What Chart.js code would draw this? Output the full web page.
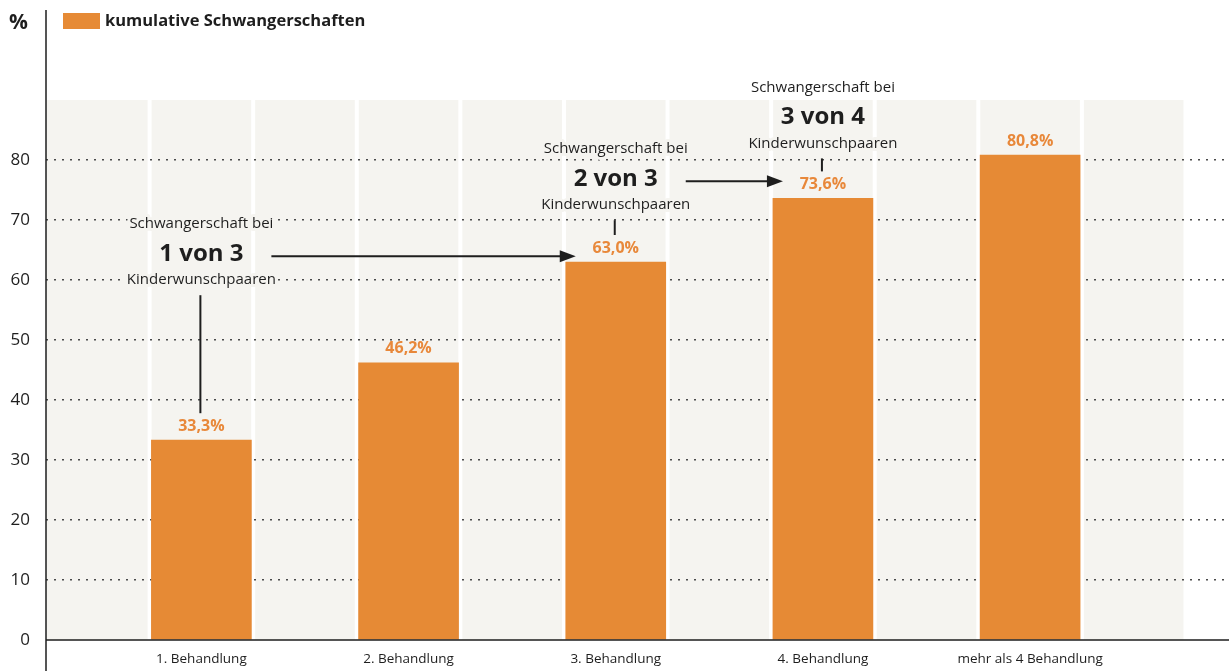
<!DOCTYPE html>
<html lang="de">
<head>
    <meta charset="UTF-8">
    <title>Kumulative Schwangerschaften</title>
    <script src="https://cdn.jsdelivr.net/npm/chart.js"></script>
    <style>
        body { margin: 0; background: #fff; }
    </style>
</head>
<body>
    <canvas id="chart" width="1229" height="671"></canvas>

    <script>
        // data
        const xLabels = ['1. Behandlung', '2. Behandlung', '3. Behandlung', '4. Behandlung', 'mehr als 4 Behandlung'];
        const values = [33.3, 46.2, 63.0, 73.6, 80.8];
        const valueLabels = ['33,3%', '46,2%', '63,0%', '73,6%', '80,8%'];
        const yTicks = [0, 10, 20, 30, 40, 50, 60, 70, 80];
        const seriesName = 'kumulative Schwangerschaften';

        // callouts: bar index, value where the first text line sits, big text
        const noteBars = [0, 2, 3];
        const noteValues = [69.3, 81.8, 92.1];
        const noteBig = ['1 von 3', '2 von 3', '3 von 4'];
        const noteTop = 'Schwangerschaft bei';
        const noteBottom = 'Kinderwunschpaaren';
        const arrowFrom = [0, 1];   // arrow from note i to note i+1

        const orange = '#e68a35';
        const panel = '#f5f4f0';
        const ink = '#1e1e1e';
        const font = "'Open Sans', sans-serif";

        Chart.defaults.font.family = font;
        Chart.defaults.color = ink;

        const backdrop = {
            id: 'backdrop',
            beforeDraw(chart) {
                const ctx = chart.ctx;
                const x = chart.scales.x, y = chart.scales.y;
                const top = y.getPixelForValue(90), bottom = y.getPixelForValue(0);
                ctx.save();
                ctx.fillStyle = panel;
                for (let k = 0; k < 11; k++) {
                    const l = x.getPixelForValue(-0.75 + k * 0.5) + (k === 0 ? 0 : 2);
                    const r = x.getPixelForValue(-0.25 + k * 0.5) - 2;
                    ctx.fillRect(l, top, r - l, bottom - top);
                }
                ctx.restore();
            },
            afterDraw(chart) {
                const ctx = chart.ctx;
                const y = chart.scales.y;
                const area = chart.chartArea;
                const bars = chart.getDatasetMeta(0).data;
                const panelTop = y.getPixelForValue(90);
                ctx.save();

                // axis lines
                ctx.strokeStyle = ink;
                ctx.lineWidth = 1.5;
                ctx.beginPath();
                ctx.moveTo(area.left, area.top);
                ctx.lineTo(area.left, chart.height);
                ctx.moveTo(area.left, area.bottom);
                ctx.lineTo(area.right, area.bottom);
                ctx.stroke();

                // % sign and legend
                ctx.fillStyle = ink;
                ctx.textBaseline = 'middle';
                ctx.textAlign = 'left';
                ctx.font = 'bold 21px ' + font;
                ctx.fillText('%', 9, 23);
                ctx.fillStyle = orange;
                ctx.fillRect(63, 13, 37, 16);
                ctx.fillStyle = ink;
                ctx.font = 'bold 16.5px ' + font;
                ctx.fillText(seriesName, 105, 21);

                // value labels
                ctx.textAlign = 'center';
                ctx.fillStyle = '#e8883a';
                ctx.font = 'bold 16px ' + font;
                bars.forEach((b, i) => ctx.fillText(valueLabels[i], b.x, b.y - 14));

                // callouts
                const lines = [];
                noteBars.forEach((bi, n) => {
                    const b = bars[bi];
                    const y1 = y.getPixelForValue(noteValues[n]);
                    const y2 = y1 + 30, y3 = y1 + 56;
                    lines.push({ bx: b.x, y2 });
                    const txt = [[noteTop, '15px ', y1], [noteBig[n], 'bold 24px ', y2], [noteBottom, '15px ', y3]];
                    txt.forEach(([t, f, ty]) => {
                        ctx.font = f + font;
                        if (ty > panelTop) {
                            ctx.strokeStyle = panel;
                            ctx.lineWidth = 6;
                            ctx.lineJoin = 'round';
                            ctx.strokeText(t, b.x, ty);
                        }
                        ctx.fillStyle = ink;
                        ctx.fillText(t, b.x, ty);
                    });
                    ctx.strokeStyle = ink;
                    ctx.lineWidth = 2;
                    ctx.beginPath();
                    ctx.moveTo(b.x - 1, y3 + 15);
                    ctx.lineTo(b.x - 1, b.y - 27);
                    ctx.stroke();
                });

                arrowFrom.forEach(n => {
                    const a = lines[n], z = lines[n + 1];
                    const x0 = a.bx + 70, x1 = z.bx - 40, ay = a.y2 + 2;
                    ctx.strokeStyle = ink;
                    ctx.lineWidth = 2;
                    ctx.beginPath();
                    ctx.moveTo(x0, ay);
                    ctx.lineTo(x1 - 12, ay);
                    ctx.stroke();
                    ctx.fillStyle = ink;
                    ctx.beginPath();
                    ctx.moveTo(x1, ay);
                    ctx.lineTo(x1 - 16, ay - 6);
                    ctx.lineTo(x1 - 16, ay + 6);
                    ctx.closePath();
                    ctx.fill();
                });
                ctx.restore();
            }
        };

        new Chart(document.getElementById('chart'), {
            type: 'bar',
            data: {
                datasets: [{
                    label: seriesName,
                    data: values.map((v, i) => ({ x: i, y: v })),
                    backgroundColor: orange,
                    barThickness: 100
                }]
            },
            options: {
                responsive: false,
                animation: false,
                layout: { padding: { top: 10, right: 0, left: 0, bottom: 0 } },
                plugins: {
                    legend: { display: false },
                    tooltip: { enabled: false }
                },
                scales: {
                    x: {
                        type: 'linear',
                        offset: false,
                        min: -0.75,
                        max: 4.96,
                        afterFit(scale) {
                            scale.height = 31;
                            scale.paddingLeft = 0;
                            scale.paddingRight = 0;
                        },
                        afterBuildTicks(scale) { scale.ticks = xLabels.map((l, i) => ({ value: i })); },
                        ticks: {
                            callback: v => xLabels[v],
                            autoSkip: false,
                            maxRotation: 0,
                            padding: 3,
                            color: ink,
                            font: { size: 13.5 }
                        },
                        grid: { display: false },
                        border: { display: false }
                    },
                    y: {
                        min: 0,
                        max: 105,
                        z: 1,
                        afterFit(scale) {
                            scale.width = 46;
                            scale.paddingTop = 0;
                            scale.paddingBottom = 0;
                        },
                        afterBuildTicks(scale) { scale.ticks = yTicks.map(v => ({ value: v })); },
                        ticks: {
                            padding: 16,
                            color: ink,
                            font: { size: 17 }
                        },
                        grid: {
                            drawTicks: false,
                            color: c => c.tick && c.tick.value === 0 ? 'rgba(0,0,0,0)' : '#4a4a4a',
                            lineWidth: 1.5
                        },
                        border: { display: false, dash: [2, 6] }
                    }
                }
            },
            plugins: [backdrop]
        });
    </script>
</body>
</html>
